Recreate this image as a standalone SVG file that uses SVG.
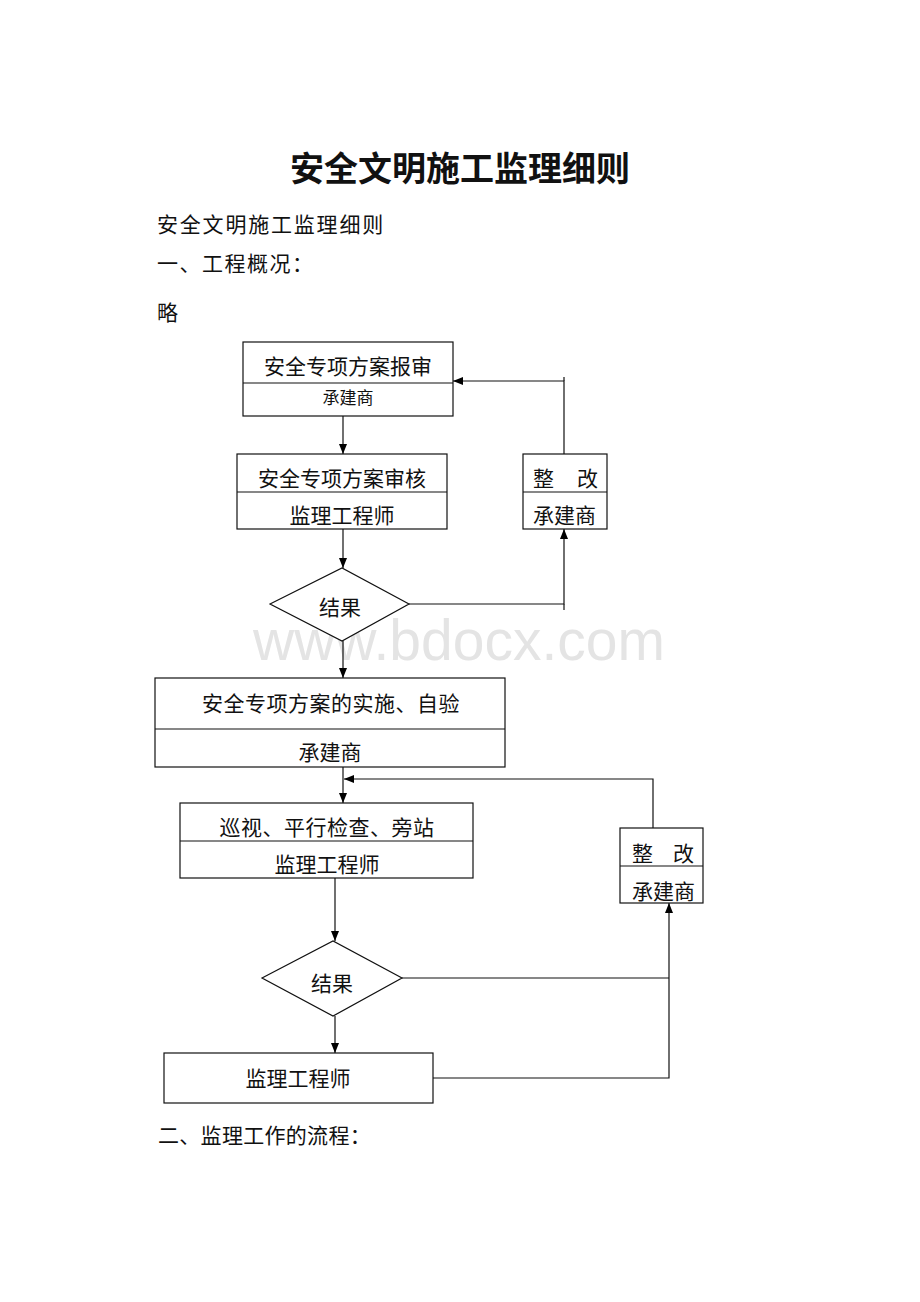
<svg xmlns="http://www.w3.org/2000/svg" width="920" height="1302" viewBox="0 0 920 1302">
<defs>
<marker id="arr" markerUnits="userSpaceOnUse" markerWidth="10" markerHeight="10" viewBox="0 0 10 10" refX="10" refY="5" orient="auto">
<path d="M0,1 L10,5 L0,9 Z" fill="#000"/>
</marker>
<style>
.t{font-family:"Noto Sans CJK SC","Noto Sans CJK JP",sans-serif;fill:#111;}
.c{text-anchor:middle;}
.box{fill:#fff;stroke:#111;stroke-width:1.2;}
.ln{fill:none;stroke:#111;stroke-width:1.2;}
.wm{font-family:"Liberation Sans",Arial,sans-serif;fill:#e4e4e4;}
</style>
</defs>
<rect width="920" height="1302" fill="#fff"/>
<text class="wm" x="253" y="660" font-size="57" textLength="412" lengthAdjust="spacingAndGlyphs">www.bdocx.com</text>

<g id="page-text">
<text class="t c" x="460" y="181" font-size="34" font-weight="bold">安全文明施工监理细则</text>
<text class="t" x="157" y="232" font-size="21" letter-spacing="1.8">安全文明施工监理细则</text>
<text class="t" x="157" y="271" font-size="21" letter-spacing="1.5">一、工程概况：</text>
<text class="t" x="157" y="320" font-size="21">略</text>
<text class="t" x="158" y="1143" font-size="21" letter-spacing="0.3">二、监理工作的流程：</text>
</g>

<g id="connectors">
<line class="ln" x1="343" y1="416" x2="343" y2="454" marker-end="url(#arr)"/>
<polyline class="ln" points="564,454 564,381 453,381" marker-end="url(#arr)"/>
<line class="ln" x1="564" y1="377" x2="564" y2="381"/>
<line class="ln" x1="343" y1="529" x2="343" y2="568" marker-end="url(#arr)"/>
<polyline class="ln" points="409,604 564,604 564,529" marker-end="url(#arr)"/>
<line class="ln" x1="564" y1="604" x2="564" y2="610"/>
<line class="ln" x1="343" y1="641" x2="343" y2="678" marker-end="url(#arr)"/>
<line class="ln" x1="343" y1="767" x2="343" y2="803" marker-end="url(#arr)"/>
<polyline class="ln" points="653,828 653,779 344,779" marker-end="url(#arr)"/>
<line class="ln" x1="335" y1="878" x2="335" y2="941" marker-end="url(#arr)"/>
<line class="ln" x1="335" y1="1016" x2="335" y2="1053" marker-end="url(#arr)"/>
<line class="ln" x1="402" y1="978" x2="669" y2="978"/>
<polyline class="ln" points="433,1078 669,1078 669,903" marker-end="url(#arr)"/>
</g>

<g id="node-submit">
<rect class="box" x="243" y="342" width="210" height="74"/>
<line class="ln" x1="243" y1="383" x2="453" y2="383"/>
<text class="t c" x="348" y="374" font-size="21">安全专项方案报审</text>
<text class="t c" x="348" y="404" font-size="17">承建商</text>
</g>

<g id="node-review">
<rect class="box" x="237" y="454" width="210" height="75"/>
<line class="ln" x1="237" y1="492" x2="447" y2="492"/>
<text class="t c" x="342" y="486" font-size="21">安全专项方案审核</text>
<text class="t c" x="342" y="523" font-size="21">监理工程师</text>
</g>

<g id="node-rectify1">
<rect class="box" x="523" y="454" width="84" height="75"/>
<line class="ln" x1="523" y1="492" x2="607" y2="492"/>
<text class="t" x="533" y="486" font-size="21">整</text>
<text class="t" x="577" y="486" font-size="21">改</text>
<text class="t" x="533" y="523" font-size="21">承建商</text>
</g>

<g id="node-result1">
<polygon class="box" points="270,604 342,568 409,604 342,641"/>
<text class="t c" x="340" y="615" font-size="21">结果</text>
</g>

<g id="node-implement">
<rect class="box" x="155" y="678" width="350" height="89"/>
<line class="ln" x1="155" y1="729" x2="505" y2="729"/>
<text class="t c" x="331" y="711" font-size="21" letter-spacing="0.5">安全专项方案的实施、自验</text>
<text class="t c" x="330" y="760" font-size="21">承建商</text>
</g>

<g id="node-inspect">
<rect class="box" x="180" y="803" width="293" height="75"/>
<line class="ln" x1="180" y1="841" x2="473" y2="841"/>
<text class="t c" x="327" y="835" font-size="21" letter-spacing="0.5">巡视、平行检查、旁站</text>
<text class="t c" x="327" y="872" font-size="21">监理工程师</text>
</g>

<g id="node-rectify2">
<rect class="box" x="620" y="828" width="83" height="75"/>
<line class="ln" x1="620" y1="866" x2="703" y2="866"/>
<text class="t" x="632" y="861" font-size="21">整</text>
<text class="t" x="673" y="861" font-size="21">改</text>
<text class="t" x="632" y="899" font-size="21">承建商</text>
</g>

<g id="node-result2">
<polygon class="box" points="262,978 333,941 402,978 333,1016"/>
<text class="t c" x="332" y="991" font-size="21">结果</text>
</g>

<g id="node-engineer">
<rect class="box" x="164" y="1053" width="269" height="50"/>
<text class="t c" x="298" y="1086" font-size="21">监理工程师</text>
</g>
</svg>
